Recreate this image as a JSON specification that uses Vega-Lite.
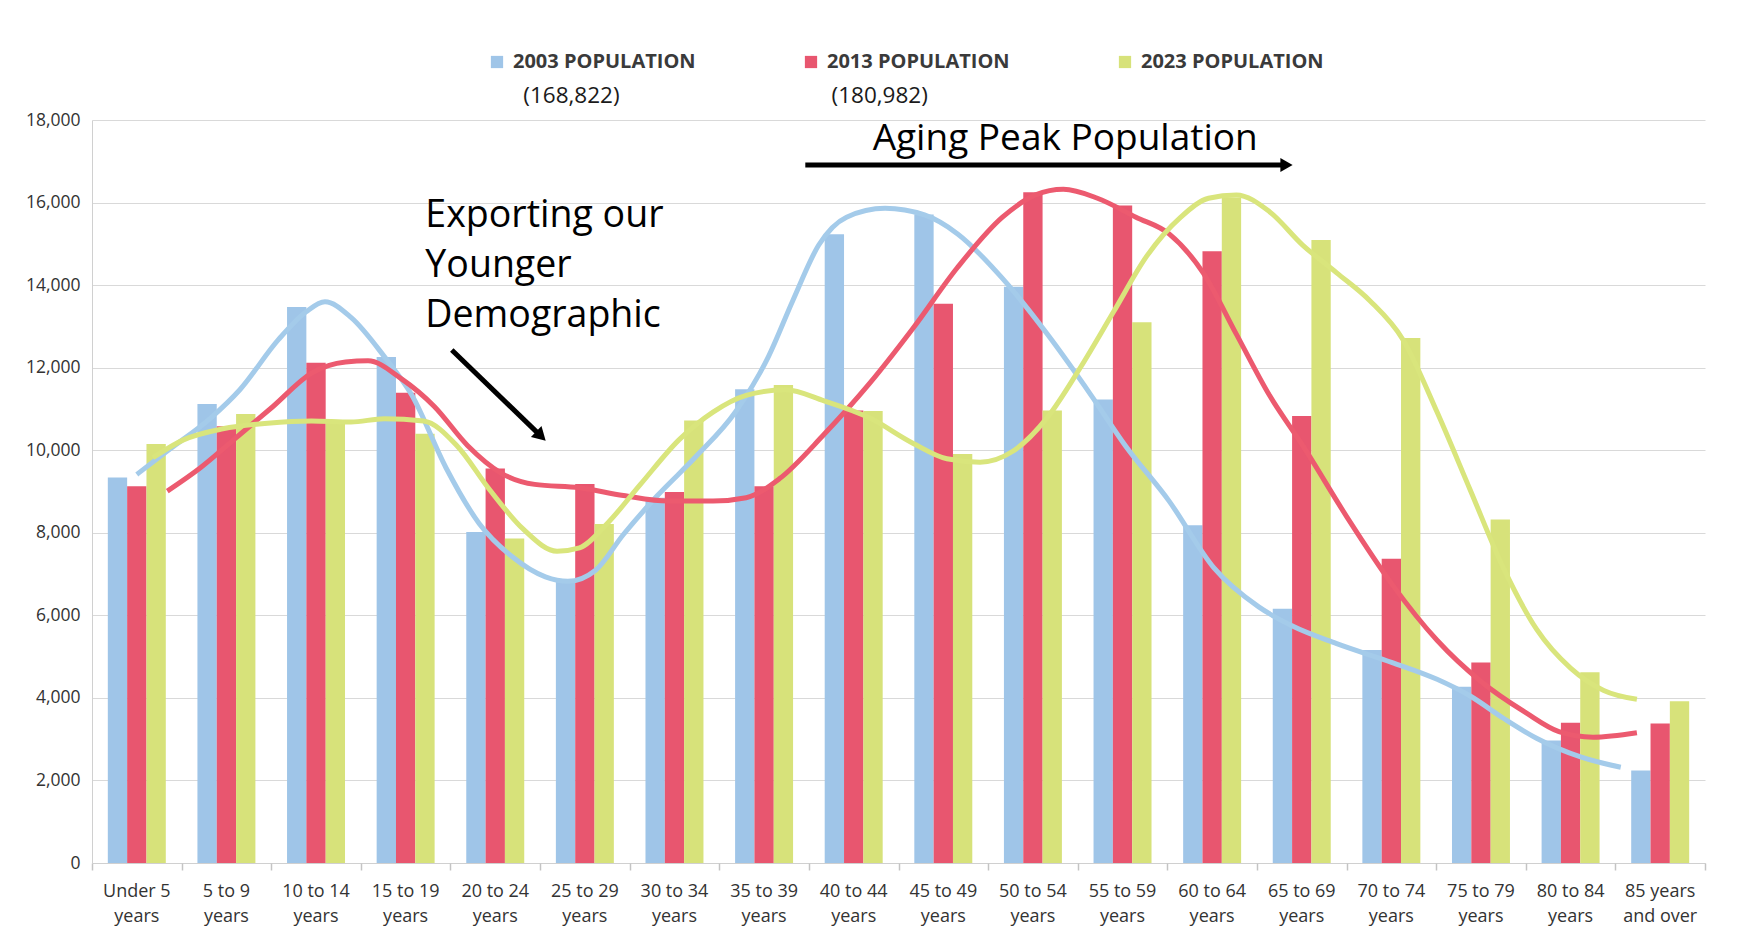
{
  "$schema": "https://vega.github.io/schema/vega-lite/v6.json",
  "width": 1613,
  "height": 743,
  "autosize": {"type": "none"},
  "padding": {"left": 92, "top": 120, "right": 41, "bottom": 73},
  "background": "white",
  "config": {
    "view": {"stroke": null},
    "font": "Open Sans",
    "axis": {"labelFont": "Open Sans", "labelColor": "#333333"}
  },
  "datasets": {
    "bars": [
      {"age": "Under 5 years", "year": "2003", "value": 9340},
      {"age": "Under 5 years", "year": "2013", "value": 9130},
      {"age": "Under 5 years", "year": "2023", "value": 10150},
      {"age": "5 to 9 years", "year": "2003", "value": 11120},
      {"age": "5 to 9 years", "year": "2013", "value": 10580},
      {"age": "5 to 9 years", "year": "2023", "value": 10880},
      {"age": "10 to 14 years", "year": "2003", "value": 13470},
      {"age": "10 to 14 years", "year": "2013", "value": 12120},
      {"age": "10 to 14 years", "year": "2023", "value": 10720},
      {"age": "15 to 19 years", "year": "2003", "value": 12260},
      {"age": "15 to 19 years", "year": "2013", "value": 11390},
      {"age": "15 to 19 years", "year": "2023", "value": 10400},
      {"age": "20 to 24 years", "year": "2003", "value": 8020},
      {"age": "20 to 24 years", "year": "2013", "value": 9560},
      {"age": "20 to 24 years", "year": "2023", "value": 7860},
      {"age": "25 to 29 years", "year": "2003", "value": 6850},
      {"age": "25 to 29 years", "year": "2013", "value": 9180},
      {"age": "25 to 29 years", "year": "2023", "value": 8210},
      {"age": "30 to 34 years", "year": "2003", "value": 8850},
      {"age": "30 to 34 years", "year": "2013", "value": 8990},
      {"age": "30 to 34 years", "year": "2023", "value": 10720},
      {"age": "35 to 39 years", "year": "2003", "value": 11480},
      {"age": "35 to 39 years", "year": "2013", "value": 9130},
      {"age": "35 to 39 years", "year": "2023", "value": 11580},
      {"age": "40 to 44 years", "year": "2003", "value": 15230},
      {"age": "40 to 44 years", "year": "2013", "value": 10960},
      {"age": "40 to 44 years", "year": "2023", "value": 10950},
      {"age": "45 to 49 years", "year": "2003", "value": 15710},
      {"age": "45 to 49 years", "year": "2013", "value": 13550},
      {"age": "45 to 49 years", "year": "2023", "value": 9910},
      {"age": "50 to 54 years", "year": "2003", "value": 13960},
      {"age": "50 to 54 years", "year": "2013", "value": 16250},
      {"age": "50 to 54 years", "year": "2023", "value": 10960},
      {"age": "55 to 59 years", "year": "2003", "value": 11230},
      {"age": "55 to 59 years", "year": "2013", "value": 15930},
      {"age": "55 to 59 years", "year": "2023", "value": 13100},
      {"age": "60 to 64 years", "year": "2003", "value": 8180},
      {"age": "60 to 64 years", "year": "2013", "value": 14820},
      {"age": "60 to 64 years", "year": "2023", "value": 16120},
      {"age": "65 to 69 years", "year": "2003", "value": 6160},
      {"age": "65 to 69 years", "year": "2013", "value": 10830},
      {"age": "65 to 69 years", "year": "2023", "value": 15090},
      {"age": "70 to 74 years", "year": "2003", "value": 5160},
      {"age": "70 to 74 years", "year": "2013", "value": 7370},
      {"age": "70 to 74 years", "year": "2023", "value": 12720},
      {"age": "75 to 79 years", "year": "2003", "value": 4270},
      {"age": "75 to 79 years", "year": "2013", "value": 4860},
      {"age": "75 to 79 years", "year": "2023", "value": 8320},
      {"age": "80 to 84 years", "year": "2003", "value": 2970},
      {"age": "80 to 84 years", "year": "2013", "value": 3400},
      {"age": "80 to 84 years", "year": "2023", "value": 4620},
      {"age": "85 years and over", "year": "2003", "value": 2240},
      {"age": "85 years and over", "year": "2013", "value": 3380},
      {"age": "85 years and over", "year": "2023", "value": 3920}
    ],
    "curves": [
      {"year": "2003", "pos": 0.50, "val": 9414},
      {"year": "2003", "pos": 0.84, "val": 9981},
      {"year": "2003", "pos": 1.33, "val": 10790},
      {"year": "2003", "pos": 1.65, "val": 11464},
      {"year": "2003", "pos": 2.08, "val": 12678},
      {"year": "2003", "pos": 2.39, "val": 13353},
      {"year": "2003", "pos": 2.60, "val": 13595},
      {"year": "2003", "pos": 2.89, "val": 13218},
      {"year": "2003", "pos": 3.26, "val": 12274},
      {"year": "2003", "pos": 3.57, "val": 11330},
      {"year": "2003", "pos": 3.95, "val": 9576},
      {"year": "2003", "pos": 4.32, "val": 8227},
      {"year": "2003", "pos": 4.69, "val": 7418},
      {"year": "2003", "pos": 5.06, "val": 6933},
      {"year": "2003", "pos": 5.31, "val": 6825},
      {"year": "2003", "pos": 5.62, "val": 7094},
      {"year": "2003", "pos": 5.93, "val": 7958},
      {"year": "2003", "pos": 6.31, "val": 8902},
      {"year": "2003", "pos": 6.74, "val": 9846},
      {"year": "2003", "pos": 7.18, "val": 10925},
      {"year": "2003", "pos": 7.55, "val": 12274},
      {"year": "2003", "pos": 7.82, "val": 13622},
      {"year": "2003", "pos": 8.11, "val": 14971},
      {"year": "2003", "pos": 8.42, "val": 15646},
      {"year": "2003", "pos": 8.85, "val": 15861},
      {"year": "2003", "pos": 9.29, "val": 15699},
      {"year": "2003", "pos": 9.66, "val": 15241},
      {"year": "2003", "pos": 10.16, "val": 14162},
      {"year": "2003", "pos": 10.66, "val": 12813},
      {"year": "2003", "pos": 11.15, "val": 11330},
      {"year": "2003", "pos": 11.53, "val": 10116},
      {"year": "2003", "pos": 12.02, "val": 8767},
      {"year": "2003", "pos": 12.52, "val": 7148},
      {"year": "2003", "pos": 13.02, "val": 6204},
      {"year": "2003", "pos": 13.39, "val": 5746},
      {"year": "2003", "pos": 13.89, "val": 5314},
      {"year": "2003", "pos": 14.51, "val": 4856},
      {"year": "2003", "pos": 15.01, "val": 4451},
      {"year": "2003", "pos": 15.38, "val": 4046},
      {"year": "2003", "pos": 15.75, "val": 3507},
      {"year": "2003", "pos": 16.12, "val": 3021},
      {"year": "2003", "pos": 16.62, "val": 2563},
      {"year": "2003", "pos": 17.06, "val": 2320},
      {"year": "2013", "pos": 0.84, "val": 9010},
      {"year": "2013", "pos": 1.21, "val": 9576},
      {"year": "2013", "pos": 1.58, "val": 10251},
      {"year": "2013", "pos": 2.02, "val": 11060},
      {"year": "2013", "pos": 2.45, "val": 11869},
      {"year": "2013", "pos": 2.83, "val": 12139},
      {"year": "2013", "pos": 3.08, "val": 12166},
      {"year": "2013", "pos": 3.45, "val": 11734},
      {"year": "2013", "pos": 3.82, "val": 11060},
      {"year": "2013", "pos": 4.19, "val": 10116},
      {"year": "2013", "pos": 4.57, "val": 9441},
      {"year": "2013", "pos": 4.94, "val": 9172},
      {"year": "2013", "pos": 5.44, "val": 9091},
      {"year": "2013", "pos": 5.93, "val": 8902},
      {"year": "2013", "pos": 6.43, "val": 8767},
      {"year": "2013", "pos": 6.93, "val": 8767},
      {"year": "2013", "pos": 7.30, "val": 8848},
      {"year": "2013", "pos": 7.67, "val": 9306},
      {"year": "2013", "pos": 8.17, "val": 10385},
      {"year": "2013", "pos": 8.67, "val": 11599},
      {"year": "2013", "pos": 9.16, "val": 12948},
      {"year": "2013", "pos": 9.66, "val": 14432},
      {"year": "2013", "pos": 10.16, "val": 15646},
      {"year": "2013", "pos": 10.53, "val": 16185},
      {"year": "2013", "pos": 10.84, "val": 16320},
      {"year": "2013", "pos": 11.22, "val": 16105},
      {"year": "2013", "pos": 11.65, "val": 15646},
      {"year": "2013", "pos": 12.02, "val": 15241},
      {"year": "2013", "pos": 12.40, "val": 14297},
      {"year": "2013", "pos": 12.77, "val": 12813},
      {"year": "2013", "pos": 13.14, "val": 11330},
      {"year": "2013", "pos": 13.51, "val": 10116},
      {"year": "2013", "pos": 14.01, "val": 8362},
      {"year": "2013", "pos": 14.51, "val": 6744},
      {"year": "2013", "pos": 15.01, "val": 5395},
      {"year": "2013", "pos": 15.50, "val": 4397},
      {"year": "2013", "pos": 16.00, "val": 3642},
      {"year": "2013", "pos": 16.37, "val": 3183},
      {"year": "2013", "pos": 16.75, "val": 3048},
      {"year": "2013", "pos": 17.24, "val": 3156},
      {"year": "2023", "pos": 0.68, "val": 9819},
      {"year": "2023", "pos": 1.02, "val": 10251},
      {"year": "2023", "pos": 1.46, "val": 10520},
      {"year": "2023", "pos": 1.96, "val": 10655},
      {"year": "2023", "pos": 2.45, "val": 10709},
      {"year": "2023", "pos": 2.89, "val": 10682},
      {"year": "2023", "pos": 3.26, "val": 10763},
      {"year": "2023", "pos": 3.70, "val": 10709},
      {"year": "2023", "pos": 4.07, "val": 10116},
      {"year": "2023", "pos": 4.44, "val": 9037},
      {"year": "2023", "pos": 4.81, "val": 8093},
      {"year": "2023", "pos": 5.19, "val": 7553},
      {"year": "2023", "pos": 5.44, "val": 7634},
      {"year": "2023", "pos": 5.75, "val": 8227},
      {"year": "2023", "pos": 6.12, "val": 9172},
      {"year": "2023", "pos": 6.55, "val": 10251},
      {"year": "2023", "pos": 6.93, "val": 10925},
      {"year": "2023", "pos": 7.30, "val": 11330},
      {"year": "2023", "pos": 7.74, "val": 11464},
      {"year": "2023", "pos": 8.17, "val": 11195},
      {"year": "2023", "pos": 8.67, "val": 10790},
      {"year": "2023", "pos": 9.16, "val": 10170},
      {"year": "2023", "pos": 9.54, "val": 9792},
      {"year": "2023", "pos": 9.91, "val": 9711},
      {"year": "2023", "pos": 10.28, "val": 9981},
      {"year": "2023", "pos": 10.66, "val": 10790},
      {"year": "2023", "pos": 11.03, "val": 12004},
      {"year": "2023", "pos": 11.40, "val": 13353},
      {"year": "2023", "pos": 11.77, "val": 14701},
      {"year": "2023", "pos": 12.15, "val": 15646},
      {"year": "2023", "pos": 12.46, "val": 16104},
      {"year": "2023", "pos": 12.77, "val": 16185},
      {"year": "2023", "pos": 13.14, "val": 15780},
      {"year": "2023", "pos": 13.51, "val": 14971},
      {"year": "2023", "pos": 13.89, "val": 14297},
      {"year": "2023", "pos": 14.26, "val": 13622},
      {"year": "2023", "pos": 14.63, "val": 12678},
      {"year": "2023", "pos": 15.01, "val": 10925},
      {"year": "2023", "pos": 15.38, "val": 9037},
      {"year": "2023", "pos": 15.75, "val": 7148},
      {"year": "2023", "pos": 16.12, "val": 5665},
      {"year": "2023", "pos": 16.50, "val": 4721},
      {"year": "2023", "pos": 16.87, "val": 4181},
      {"year": "2023", "pos": 17.24, "val": 3965}
    ],
    "exportNote": [
      {"text": "Exporting our", "pos": 3.72, "val": 15414},
      {"text": "Younger", "pos": 3.72, "val": 14203},
      {"text": "Demographic", "pos": 3.72, "val": 12992}
    ],
    "agingNote": [
      {"text": "Aging Peak Population", "pos": 10.86, "val": 17273}
    ],
    "totals": [
      {"text": "(168,822)", "pos": 5.35, "val": 18412},
      {"text": "(180,982)", "pos": 8.79, "val": 18412}
    ],
    "arrowDiag": [
      {"pos": 4.015, "val": 12428, "pos2": 5.01, "val2": 10342}
    ],
    "arrowHoriz": [
      {"pos": 7.96, "val": 16910, "pos2": 13.33, "val2": 16910}
    ]
  },
  "resolve": {"scale": {"x": "independent"}},
  "layer": [
    {
      "data": {"name": "bars"},
      "mark": {"type": "bar"},
      "encoding": {
        "x": {
          "field": "age",
          "type": "nominal",
          "sort": ["Under 5 years", "5 to 9 years", "10 to 14 years", "15 to 19 years", "20 to 24 years", "25 to 29 years", "30 to 34 years", "35 to 39 years", "40 to 44 years", "45 to 49 years", "50 to 54 years", "55 to 59 years", "60 to 64 years", "65 to 69 years", "70 to 74 years", "75 to 79 years", "80 to 84 years", "85 years and over"],
          "scale": {"paddingInner": 0.353, "paddingOuter": 0.1765},
          "axis": {
            "title": null,
            "labelAngle": 0,
            "labelFontSize": 18,
            "labelLineHeight": 25,
            "labelPadding": 19,
            "tickSize": 0,
            "domainColor": "#d0d0d0",
            "labelExpr": "datum.value == '85 years and over' ? ['85 years', 'and over'] : [replace(datum.value, ' years', ''), 'years']"
          }
        },
        "xOffset": {"field": "year", "type": "nominal", "scale": {"paddingInner": 0, "paddingOuter": 0}},
        "y": {
          "field": "value",
          "type": "quantitative",
          "scale": {"domain": [0, 18000], "nice": false},
          "axis": {
            "title": null,
            "values": [0, 2000, 4000, 6000, 8000, 10000, 12000, 14000, 16000, 18000],
            "labelExpr": "format(datum.value, ',')",
            "labelFontSize": 17.5,
            "labelPadding": 12,
            "tickSize": 0,
            "domainColor": "#d0d0d0",
            "gridColor": "#d9d9d9",
            "gridWidth": 1.2
          }
        },
        "color": {
          "field": "year",
          "type": "nominal",
          "scale": {"domain": ["2003", "2013", "2023"], "range": ["#9fc5e8", "#e8566f", "#d7e27a"]},
          "legend": {
            "orient": "none",
            "legendX": 395,
            "legendY": -68,
            "direction": "horizontal",
            "columns": 3,
            "gridAlign": "all",
            "columnPadding": 105,
            "padding": 0,
            "title": null,
            "symbolType": "square",
            "symbolSize": 150,
            "symbolStrokeWidth": 0,
            "labelOffset": 6,
            "labelLimit": 400,
            "labelFont": "Open Sans",
            "labelFontWeight": "bold",
            "labelFontSize": 20,
            "labelColor": "#3a3a3a",
            "labelExpr": "datum.label + ' POPULATION'"
          }
        }
      }
    },
    {
      "layer": [
        {
          "data": {"name": "curves"},
          "mark": {"type": "line", "interpolate": "monotone", "strokeWidth": 5, "strokeCap": "butt"},
          "encoding": {
            "x": {
              "field": "pos",
              "type": "quantitative",
              "scale": {"domain": [0, 18], "nice": false, "zero": false},
              "axis": {"orient": "bottom", "title": null, "values": [0, 1, 2, 3, 4, 5, 6, 7, 8, 9, 10, 11, 12, 13, 14, 15, 16, 17, 18], "labels": false, "domain": false, "grid": false, "ticks": true, "tickSize": 7, "tickWidth": 1.5, "tickColor": "#c4c4c4"}
            },
            "y": {"field": "val", "type": "quantitative"},
            "stroke": {
              "field": "year",
              "type": "nominal",
              "scale": {"domain": ["2003", "2013", "2023"], "range": ["#a4cbea", "#ec5a6f", "#d9e57c"]},
              "legend": null
            }
          }
        },
        {
          "data": {"name": "exportNote"},
          "mark": {"type": "text", "align": "left", "baseline": "alphabetic", "fontSize": 37.5, "font": "Open Sans", "color": "#000000"},
          "encoding": {
            "x": {"field": "pos", "type": "quantitative"},
            "y": {"field": "val", "type": "quantitative"},
            "text": {"field": "text"}
          }
        },
        {
          "data": {"name": "agingNote"},
          "mark": {"type": "text", "align": "center", "baseline": "alphabetic", "fontSize": 37, "font": "Open Sans", "color": "#000000"},
          "encoding": {
            "x": {"field": "pos", "type": "quantitative"},
            "y": {"field": "val", "type": "quantitative"},
            "text": {"field": "text"}
          }
        },
        {
          "data": {"name": "totals"},
          "mark": {"type": "text", "align": "center", "baseline": "alphabetic", "fontSize": 22.5, "font": "Open Sans", "color": "#1a1a1a"},
          "encoding": {
            "x": {"field": "pos", "type": "quantitative"},
            "y": {"field": "val", "type": "quantitative"},
            "text": {"field": "text"}
          }
        },
        {
          "data": {"name": "arrowDiag"},
          "mark": {"type": "rule", "strokeWidth": 5, "color": "#000000"},
          "encoding": {
            "x": {"field": "pos", "type": "quantitative"},
            "x2": {"field": "pos2"},
            "y": {"field": "val", "type": "quantitative"},
            "y2": {"field": "val2"}
          }
        },
        {
          "data": {"name": "arrowDiag"},
          "mark": {"type": "point", "shape": "triangle-right", "filled": true, "size": 230, "angle": 44, "color": "#000000", "opacity": 1},
          "encoding": {
            "x": {"field": "pos2", "type": "quantitative"},
            "y": {"field": "val2", "type": "quantitative"}
          }
        },
        {
          "data": {"name": "arrowHoriz"},
          "mark": {"type": "rule", "strokeWidth": 5, "color": "#000000"},
          "encoding": {
            "x": {"field": "pos", "type": "quantitative"},
            "x2": {"field": "pos2"},
            "y": {"field": "val", "type": "quantitative"}
          }
        },
        {
          "data": {"name": "arrowHoriz"},
          "mark": {"type": "point", "shape": "triangle-right", "filled": true, "size": 200, "color": "#000000", "opacity": 1},
          "encoding": {
            "x": {"field": "pos2", "type": "quantitative"},
            "y": {"field": "val2", "type": "quantitative"}
          }
        }
      ]
    }
  ]
}
